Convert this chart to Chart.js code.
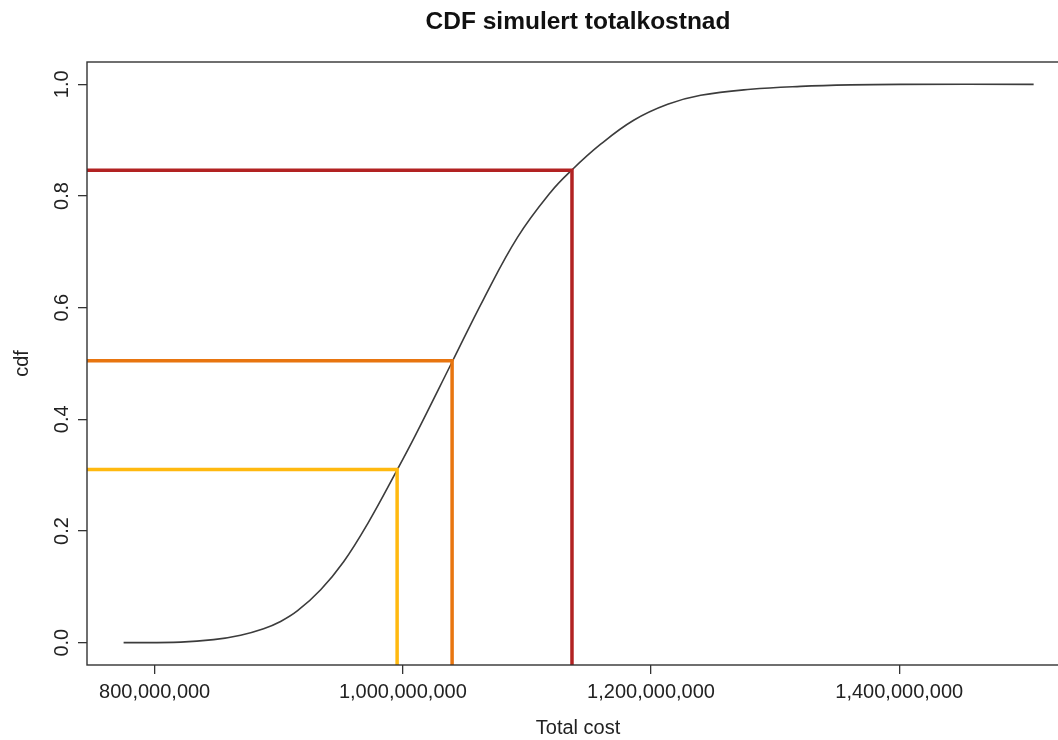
<!DOCTYPE html>
<html><head><meta charset="utf-8">
<script src="https://cdn.jsdelivr.net/npm/chart.js@4.4.1/dist/chart.umd.min.js"></script>
<style>
html,body{margin:0;padding:0;overflow:hidden;background:#fff;width:1058px;height:740px}
#wrap{position:absolute;left:0;top:0;width:1080px;height:740px}
</style>
</head><body><div id="wrap"><canvas id="c" width="1080" height="740"></canvas></div>
<script>
const costMillions = [775.0, 821.0, 847.5, 869.3, 887.8, 901.5, 915.2, 933.8, 952.3, 971.6, 995.0, 1010.3, 1040.1, 1065.1, 1092.5, 1119.1, 1136.0, 1159.4, 1186.0, 1213.4, 1240.0, 1280.3, 1320.5, 1360.8, 1401.1, 1508.3];
const cdfValues    = [0.000, 0.0009, 0.0054, 0.0134, 0.025, 0.038, 0.0572, 0.0948, 0.1449, 0.2129, 0.3077, 0.3721, 0.5045, 0.6154, 0.7263, 0.8068, 0.8462, 0.8927, 0.9356, 0.9642, 0.9803, 0.9911, 0.9964, 0.9991, 1.000, 1.000];

// Marked quantiles
const quantileProbs = [0.31, 0.505, 0.846];
const quantileCostMillions = [995.4, 1039.7, 1136.3];
const quantileColors = ['#FFB90F', '#E8750F', '#B22222'];

// Axes
const xTickValues = [800e6, 1000e6, 1200e6, 1400e6];
const yTickValues = [0, 0.2, 0.4, 0.6, 0.8, 1.0];
const xMin = 745.5e6, xMax = 1536.8e6, yMin = -0.04, yMax = 1.04;

const FONT = "'Liberation Sans', Arial, Helvetica, sans-serif";
Chart.defaults.font.family = FONT;
Chart.defaults.color = '#222';

const curve = costMillions.map((c, i) => ({x: c * 1e6, y: cdfValues[i]}));
const quantileSets = quantileProbs.map((p, i) => ({
  data: [
    {x: xMin - 5e7, y: p},
    {x: quantileCostMillions[i] * 1e6, y: p},
    {x: quantileCostMillions[i] * 1e6, y: yMin - 0.1}
  ],
  borderColor: quantileColors[i],
  borderWidth: 3.5,
  borderJoinStyle: 'miter',
  borderCapStyle: 'butt',
  pointRadius: 0,
  fill: false,
  tension: 0,
  clip: 0,
  order: 0
}));

const framePlugin = {
  id: 'frame',
  afterDatasetsDraw(chart) {
    const a = chart.chartArea, ctx = chart.ctx;
    ctx.save();
    ctx.strokeStyle = '#333';
    ctx.lineWidth = 1.4;
    ctx.strokeRect(a.left, a.top, a.right - a.left, a.bottom - a.top);
    ctx.restore();
  }
};

new Chart(document.getElementById('c'), {
  type: 'line',
  data: {
    datasets: [
      {
        data: curve,
        borderColor: '#3c3c3c',
        borderWidth: 1.6,
        pointRadius: 0,
        fill: false,
        tension: 0.4,
        order: 1
      },
      ...quantileSets
    ]
  },
  options: {
    responsive: false,
    animation: false,
    devicePixelRatio: 1,
    layout: {padding: {left: 0, right: 11, top: 0, bottom: 0}},
    plugins: {
      legend: {display: false},
      tooltip: {enabled: false},
      title: {
        display: true,
        text: 'CDF simulert totalkostnad',
        fullSize: false,
        color: '#111',
        font: {size: 24.5, weight: 'bold', family: FONT},
        padding: {top: 8, bottom: 24.6}
      }
    },
    scales: {
      x: {
        type: 'linear',
        min: xMin, max: xMax,
        afterBuildTicks: s => { s.ticks = xTickValues.map(v => ({value: v})); },
        afterFit: s => { s.height = 75; },
        border: {display: false},
        grid: {display: true, drawOnChartArea: false, drawTicks: true, tickLength: 9, color: '#333', lineWidth: 1.3},
        ticks: {
          padding: 6,
          font: {size: 20},
          color: '#222',
          maxRotation: 0,
          autoSkip: false,
          callback: v => Math.round(v).toLocaleString('en-US')
        },
        title: {display: true, text: 'Total cost', font: {size: 20}, color: '#222', padding: {top: 0, bottom: 0}}
      },
      y: {
        type: 'linear',
        min: yMin, max: yMax,
        afterBuildTicks: s => { s.ticks = yTickValues.map(v => ({value: v})); },
        afterFit: s => { s.width = 87; },
        border: {display: false},
        grid: {display: true, drawOnChartArea: false, drawTicks: true, tickLength: 9, color: '#333', lineWidth: 1.3},
        ticks: {
          padding: 2,
          font: {size: 20},
          color: '#222',
          minRotation: 90,
          maxRotation: 90,
          crossAlign: 'center',
          autoSkip: false,
          callback: v => Number(v).toFixed(1)
        },
        title: {display: true, text: 'cdf', font: {size: 20}, color: '#222', padding: {top: 10, bottom: 0}}
      }
    }
  },
  plugins: [framePlugin]
});
</script>
</body></html>
